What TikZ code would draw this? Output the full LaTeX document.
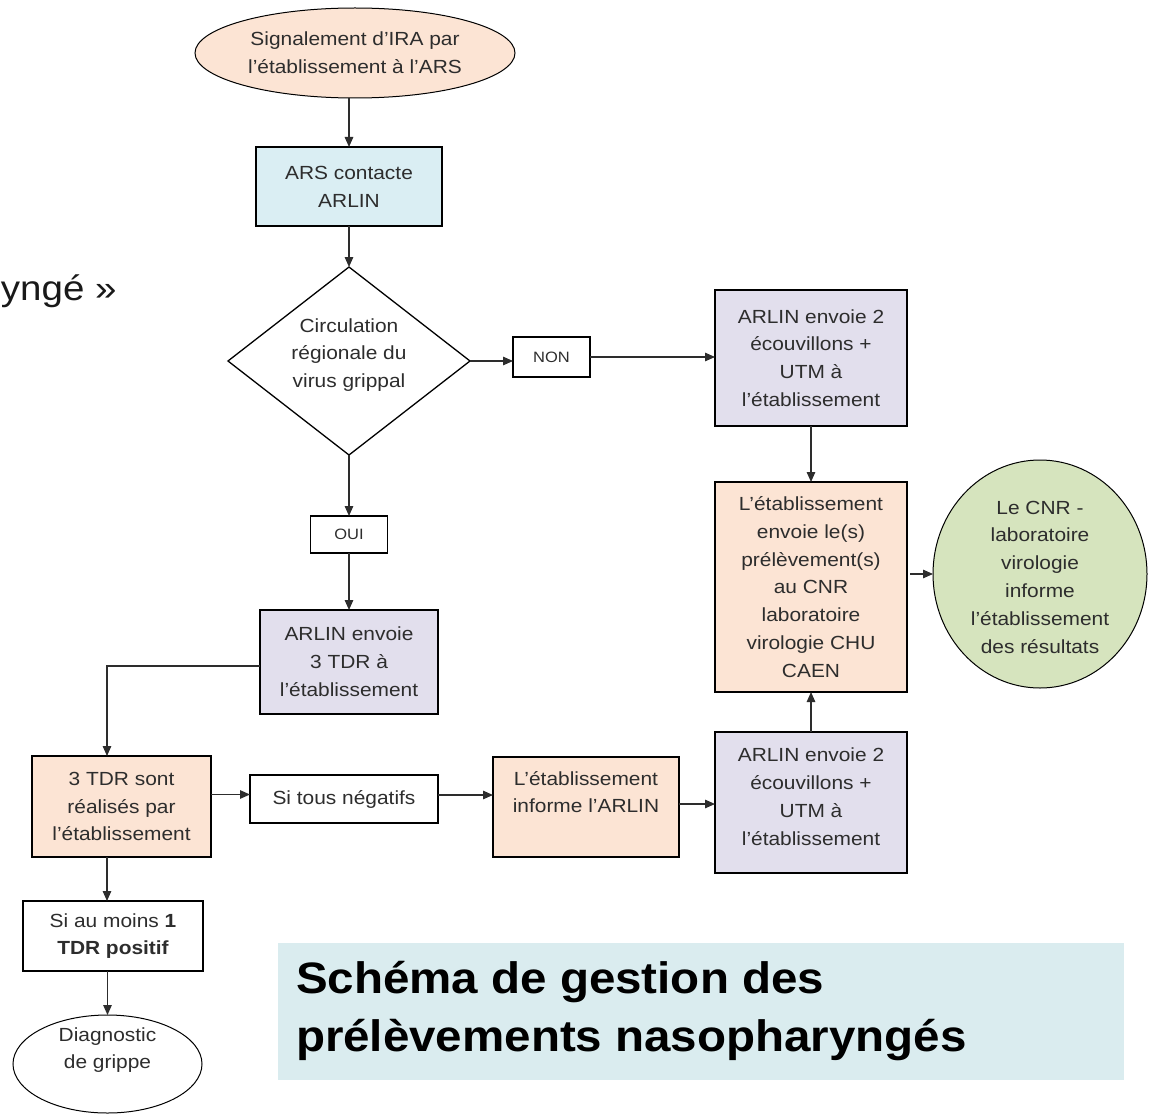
\documentclass[tikz,border=0pt]{standalone}
\usepackage{fontspec}
\setmainfont{Liberation Sans}
\newfontfamily\flowfont{Liberation Sans}[FakeStretch=1.1]
\newfontfamily\titlefont{Liberation Sans}[FakeStretch=1.08]
\usetikzlibrary{shapes.geometric,arrows.meta}
\definecolor{peach}{RGB}{252,228,212}
\definecolor{skyb}{RGB}{218,238,243}
\definecolor{lav}{RGB}{226,223,237}
\definecolor{sage}{RGB}{214,228,190}
\definecolor{titlebg}{RGB}{218,236,239}
\definecolor{ink}{RGB}{45,45,45}
\begin{document}
\begin{tikzpicture}[x=1pt,y=-1pt,
  every node/.style={inner sep=0pt, outer sep=0pt},
  ffont/.style={font=\flowfont\fontsize{19}{27.8}\selectfont},
  fc/.style={draw=black, line width=1.3pt, align=center, text=ink, ffont},
  rbox/.style={fc, rectangle},
  ebox/.style={fc, ellipse, line width=1pt},
  smallbox/.style={rbox, font=\flowfont\fontsize{15}{18}\selectfont},
  lbl/.style={align=center, text=ink, ffont},
  arr/.style={draw=ink, line width=1.3pt, -{Triangle[length=10pt,width=8.5pt]}},
]
\fill[white] (0,0) rectangle (1150,1118);
\useasboundingbox (0,0) rectangle (1150,1118);

% fragment of slide title
\node[anchor=base west, font=\flowfont\fontsize{35}{40}\selectfont, text=black!90] (frag) at (1,300) {yngé »};

% nodes
\node[ebox, fill=peach, minimum width=320pt, minimum height=90pt] (sig) at (355,53) {Signalement d’IRA par\\l’établissement à l’ARS};
\node[rbox, fill=skyb, minimum width=186pt, minimum height=79pt] (ars) at (349,186.5) {ARS contacte\\ARLIN};
\node[fc, diamond, minimum width=242pt, minimum height=188pt,
  label={[lbl, yshift=6pt]center:Circulation\\régionale du\\virus grippal}] (circ) at (349,361) {};
\node[smallbox, minimum width=77pt, minimum height=40pt] (non) at (551.5,357) {NON};
\node[smallbox, minimum width=77pt, minimum height=37pt] (oui) at (349,534.5) {OUI};
\node[rbox, fill=lav, minimum width=178pt, minimum height=104pt] (arlin3) at (349,662) {ARLIN envoie\\3 TDR à\\l’établissement};
\node[rbox, fill=peach, minimum width=179pt, minimum height=101pt] (tdr) at (121.5,806.5) {3 TDR sont\\réalisés par\\l’établissement};
\node[rbox, minimum width=188pt, minimum height=48pt] (neg) at (344,799) {Si tous négatifs};
\node[rbox, fill=peach, minimum width=186pt, minimum height=100pt,
  label={[lbl, yshift=15pt]center:L’établissement\\informe l’ARLIN}] (info) at (586,807) {};
\node[rbox, fill=lav, minimum width=192pt, minimum height=141pt,
  label={[lbl, yshift=6pt]center:ARLIN envoie 2\\écouvillons +\\UTM à\\l’établissement}] (arlinb) at (811,802.5) {};
\node[rbox, fill=peach, minimum width=192pt, minimum height=210pt] (cnr) at (811,587) {L’établissement\\envoie le(s)\\prélèvement(s)\\au CNR\\laboratoire\\virologie CHU\\CAEN};
\node[rbox, fill=lav, minimum width=192pt, minimum height=136pt] (arlint) at (811,358) {ARLIN envoie 2\\écouvillons +\\UTM à\\l’établissement};
\node[ebox, fill=sage, minimum width=214pt, minimum height=228pt,
  label={[lbl, yshift=-3pt]center:Le CNR -\\laboratoire\\virologie\\informe\\l’établissement\\des résultats}] (res) at (1040,574) {};
\node[rbox, minimum width=180pt, minimum height=70pt] (pos) at (113,936) {Si au moins \textbf{1}\\\textbf{TDR positif}};
\node[ebox, minimum width=189pt, minimum height=98pt,
  label={[lbl, yshift=14pt]center:Diagnostic\\de grippe}] (diag) at (107.5,1064) {};

% title
\node[fill=titlebg, minimum width=846pt, minimum height=137pt] (titlebox) at (701,1011.5) {};
\node[anchor=west, align=left, text=black, font=\titlefont\bfseries\fontsize{44}{58}\selectfont] (title) at (296,1011.5) {Schéma de gestion des\\prélèvements nasopharyngés};

% connectors
\draw[arr] (sig.south -| ars.north) -- (ars.north);
\draw[arr] (ars.south) -- (circ.north);
\draw[arr] (circ.east) -- (circ.east -| non.west);
\draw[arr] (non.east) -- (non.east -| arlint.west);
\draw[arr] (circ.south) -- (oui.north);
\draw[arr] (oui.south) -- (arlin3.north);
\draw[arr] ([yshift=-4pt]arlin3.west) -| ([xshift=-14.5pt]tdr.north);
\draw[arr] ([yshift=12pt]tdr.east) -- ([yshift=12pt]tdr.east -| neg.west);
\draw[arr] ([yshift=4pt]neg.east) -- ([yshift=4pt]neg.east -| info.west);
\draw[arr] ([yshift=3pt]info.east) -- ([yshift=3pt]info.east -| arlinb.west);
\draw[arr] (arlinb.north) -- (cnr.south);
\draw[arr] (arlint.south) -- (cnr.north);
\draw[arr] ([xshift=3pt]cnr.east |- res.west) -- (res.west);
\draw[arr] ([xshift=-14.5pt]tdr.south) -- ([xshift=-14.5pt]tdr.south |- pos.north);
\draw[arr] (pos.south -| diag.north) -- (diag.north);
\end{tikzpicture}
\end{document}
